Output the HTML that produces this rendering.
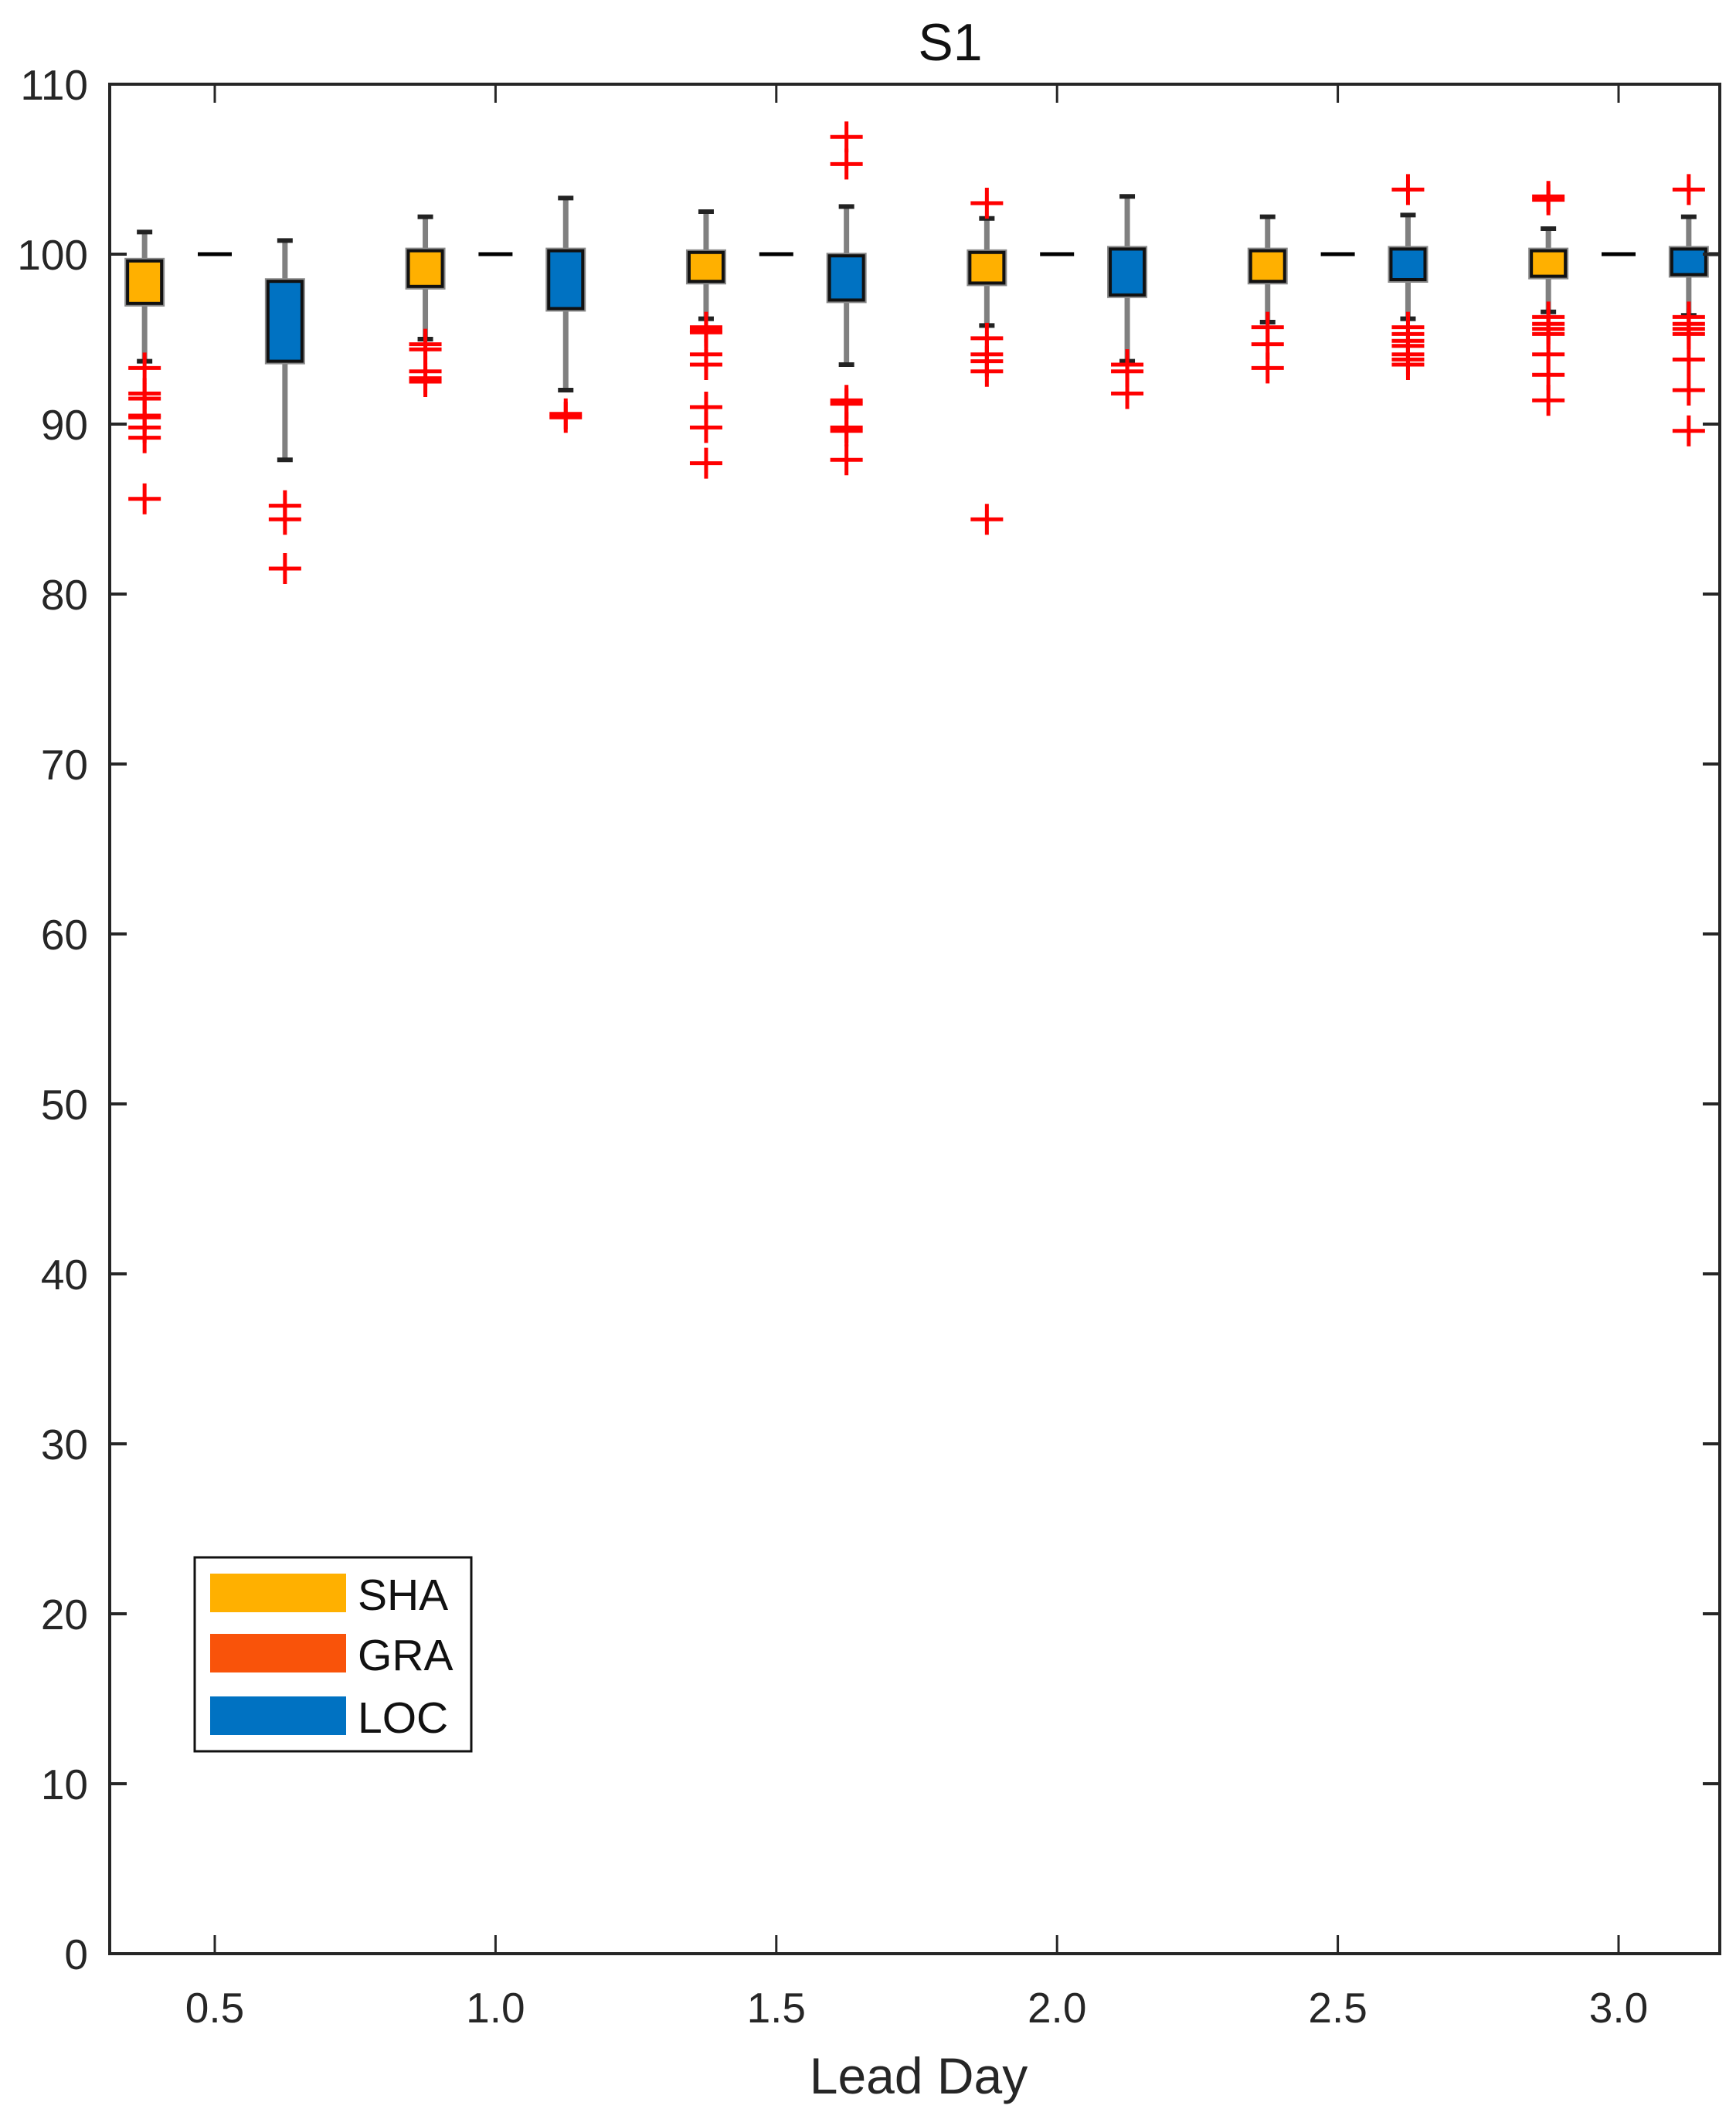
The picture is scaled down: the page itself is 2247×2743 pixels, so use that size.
<!DOCTYPE html>
<html><head><meta charset="utf-8"><style>
html,body{margin:0;padding:0;background:#fff;}
svg{display:block;font-family:"Liberation Sans",sans-serif;}
</style></head><body>
<svg id="chart" width="2247" height="2743" viewBox="0 0 2247 2743" xmlns="http://www.w3.org/2000/svg"></svg>
<script>
const positions=[0.375,0.625,0.875,1.125,1.375,1.625,1.875,2.125,2.375,2.625,2.875,3.125];
const groups=["SHA","LOC","SHA","LOC","SHA","LOC","SHA","LOC","SHA","LOC","SHA","LOC"];
const q3=[99.6,98.4,100.2,100.2,100.1,99.9,100.1,100.3,100.2,100.3,100.2,100.3];
const q1=[97.1,93.7,98.1,96.8,98.4,97.3,98.3,97.6,98.4,98.5,98.7,98.8];
const whiskHi=[101.3,100.8,102.2,103.3,102.5,102.8,102.1,103.4,102.2,102.3,101.5,102.2];
const whiskLo=[93.7,87.9,95.0,92.0,96.2,93.5,95.8,93.7,96.0,96.2,96.6,96.4];
const outliers=[
 [93.3,91.8,91.5,90.5,90.4,89.8,89.2,85.6],
 [85.2,84.4,81.5],
 [94.7,94.4,93.1,92.7,92.5],
 [90.6,90.4],
 [95.7,95.5,95.4,94.1,93.5,91.0,89.8,87.7],
 [106.9,105.3,91.4,91.2,89.8,89.6,87.9],
 [103.0,95.05,94.1,93.7,93.1,84.4],
 [93.5,93.1,91.8],
 [95.7,94.7,93.3],
 [103.8,95.7,95.3,94.9,94.6,94.1,93.8,93.5],
 [103.4,103.2,96.3,95.9,95.6,95.3,94.1,92.9,91.4],
 [103.8,96.3,95.9,95.6,95.3,93.8,92.0,89.6]
];
const yTicks=[0,10,20,30,40,50,60,70,80,90,100,110];
const xTicks=[0.5,1.0,1.5,2.0,2.5,3.0];
const xTickLabels=["0.5","1.0","1.5","2.0","2.5","3.0"];
const refValue=100;
const legendNames=["SHA","GRA","LOC"];
const legendColors=["#FFB000","#F9530A","#0072C2"];

const L=142,R=2226,T=109,B=2529;
const yMin=0,yMax=110;
const X0=278,XPER=726.8;
function xs(v){return X0+(v-0.5)*XPER;}
function ys(v){return B-(v-yMin)/(yMax-yMin)*(B-T);}
const svg=document.getElementById('chart');
const NS='http://www.w3.org/2000/svg';
function mk(tag,attrs,parent){const e=document.createElementNS(NS,tag);for(const k in attrs)e.setAttribute(k,attrs[k]);(parent||svg).appendChild(e);return e;}
const fillFor={SHA:"#FFB000",LOC:"#0072C2"};

const ref=mk('g',{});


xTicks.forEach(t=>{mk('line',{x1:xs(t)-22,x2:xs(t)+22,y1:ys(refValue),y2:ys(refValue),stroke:'#000','stroke-width':5},ref);});
mk('line',{x1:R-18,x2:R,y1:ys(refValue),y2:ys(refValue),stroke:'#000','stroke-width':5},ref);

positions.forEach((p,i)=>{
  const g=mk('g',{});
  
  
  const cx=xs(p),w=44;
  mk('line',{x1:cx,x2:cx,y1:ys(whiskHi[i]),y2:ys(q3[i]),stroke:'#808080','stroke-width':7},g);
  mk('line',{x1:cx,x2:cx,y1:ys(q1[i]),y2:ys(whiskLo[i]),stroke:'#808080','stroke-width':7},g);
  mk('line',{x1:cx-10,x2:cx+10,y1:ys(whiskHi[i]),y2:ys(whiskHi[i]),stroke:'#222','stroke-width':6},g);
  mk('line',{x1:cx-10,x2:cx+10,y1:ys(whiskLo[i]),y2:ys(whiskLo[i]),stroke:'#222','stroke-width':6},g);
  mk('rect',{x:cx-w/2-4,y:ys(q3[i])-4,width:w+8,height:ys(q1[i])-ys(q3[i])+8,fill:'#8a8a8a'},g);
  mk('rect',{x:cx-w/2,y:ys(q3[i]),width:w,height:ys(q1[i])-ys(q3[i]),fill:fillFor[groups[i]],stroke:'#111','stroke-width':4},g);
  outliers[i].forEach(o=>{
    const y=ys(o);
    const pl=mk('path',{d:`M${cx-21} ${y}H${cx+21}M${cx} ${y-20}V${y+20}`,stroke:'#FF0000','stroke-width':5,fill:'none'},g);
    
    
  });
});

const ax=mk('g',{});


mk('rect',{x:L,y:T,width:R-L,height:B-T,fill:'none',stroke:'#262626','stroke-width':4},ax);
yTicks.forEach(t=>{
  const y=ys(t);
  mk('line',{x1:L,x2:L+22,y1:y,y2:y,stroke:'#262626','stroke-width':4},ax);
  mk('line',{x1:R-22,x2:R,y1:y,y2:y,stroke:'#262626','stroke-width':4},ax);
  const tx=mk('text',{x:114,y:y+20,'text-anchor':'end','font-size':55,fill:'#262626'},ax);
  tx.textContent=t;
  
  
});
xTicks.forEach((t,i)=>{
  const x=xs(t);
  mk('line',{x1:x,x2:x,y1:B,y2:B-24,stroke:'#262626','stroke-width':3},ax);
  mk('line',{x1:x,x2:x,y1:T,y2:T+24,stroke:'#262626','stroke-width':3},ax);
  const tx=mk('text',{x:x,y:2618,'text-anchor':'middle','font-size':55,fill:'#262626'},ax);
  tx.textContent=xTickLabels[i];
  
  
});
const xt=mk('text',{x:1189,y:2710,'text-anchor':'middle','font-size':66,fill:'#262626'});
xt.textContent='Lead Day';


const tt=mk('text',{x:1230,y:78,'text-anchor':'middle','font-size':68,fill:'#111'});
tt.textContent='S1';



const lg=mk('g',{});


mk('rect',{x:252,y:2016,width:358,height:251,fill:'#fff',stroke:'#111','stroke-width':3},lg);
const lys=[2037,2115,2196];
legendNames.forEach((n,i)=>{
  const e=mk('g',{},lg);
  
  
  mk('rect',{x:272,y:lys[i],width:176,height:50,fill:legendColors[i]},e);
  const t=mk('text',{x:463,y:lys[i]+47,'font-size':57,fill:'#111'},e);
  t.textContent=n;
});
</script>
</body></html>
